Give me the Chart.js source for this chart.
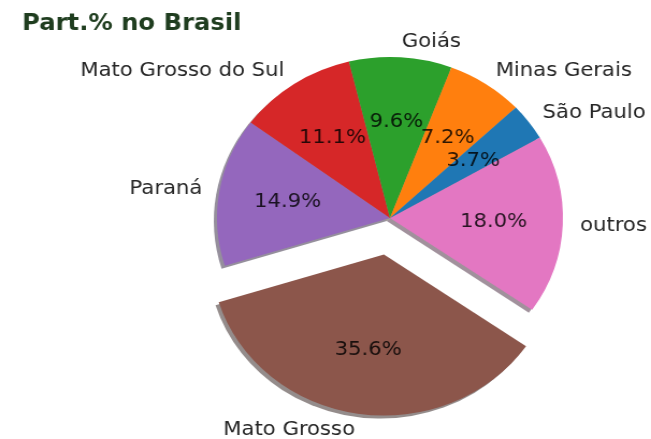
<!DOCTYPE html>
<html>
<head>
<meta charset="utf-8">
<script src="https://cdn.jsdelivr.net/npm/chart.js@4"></script>
<style>
  html, body { margin: 0; padding: 0; background: #fff; overflow: hidden; }
  /* the reference picture is a bit wider than tall, so stretch the canvas */
  #wrap { width: 606px; height: 439px; transform: scaleX(1.0743); transform-origin: 0 0; }
</style>
</head>
<body>
<div id="wrap"><canvas id="pieChart" width="606" height="439"></canvas></div>
<script>
// slices in clockwise drawing order (matplotlib drew them counter-clockwise)
const states = ["outros", "Mato Grosso", "Paraná", "Mato Grosso do Sul", "Goiás", "Minas Gerais", "São Paulo"];
const shares = [18.0, 35.6, 14.9, 11.1, 9.6, 7.2, 3.7];
const sliceColors = ["#e377c2", "#8c564b", "#9467bd", "#d62728", "#2ca02c", "#ff7f0e", "#1f77b4"];
const explode = [0, 37, 0, 0, 0, 0, 0]; // px the slice is pulled out

const total = shares.reduce((s, v) => s + v, 0);
const FONT = "'DejaVu Sans', sans-serif";

//darker, half transparent copy of a colour for the shadow
function shadeOf(hex) {
    const n = parseInt(hex.slice(1), 16);
    const r = Math.round(((n >> 16) & 255) * 0.3);
    const g = Math.round(((n >> 8) & 255) * 0.3);
    const b = Math.round((n & 255) * 0.3);
    return `rgba(${r},${g},${b},0.5)`;
}

function arcGeom(arc, i) {
    const p = arc.getProps(["x", "y", "startAngle", "endAngle", "outerRadius"]);
    const mid = (p.startAngle + p.endAngle) / 2;
    const off = explode[i] || 0;
    return {
        cx: p.x + Math.cos(mid) * off,
        cy: p.y + Math.sin(mid) * off,
        r: p.outerRadius, start: p.startAngle, end: p.endAngle, mid
    };
}

const pieDecor = {
    id: "pieDecor",
    //pull exploded slices out without chart.js growing their radius
    afterDatasetUpdate(chart, args) {
        args.meta.data.forEach((arc, i) => {
            if (!explode[i] || arc._exploded) return;
            const baseDraw = arc.draw;
            arc.draw = function (ctx, area) {
                const mid = (this.startAngle + this.endAngle) / 2;
                ctx.save();
                ctx.translate(Math.cos(mid) * explode[i], Math.sin(mid) * explode[i]);
                baseDraw.call(this, ctx, area);
                ctx.restore();
            };
            arc._exploded = true;
        });
    },
    beforeDatasetsDraw(chart) {
        const ctx = chart.ctx;
        chart.getDatasetMeta(0).data.forEach((arc, i) => {
            const g = arcGeom(arc, i);
            ctx.save();
            ctx.beginPath();
            ctx.moveTo(g.cx - 3, g.cy + 3);
            ctx.arc(g.cx - 3, g.cy + 3, g.r, g.start, g.end);
            ctx.closePath();
            ctx.fillStyle = shadeOf(sliceColors[i]);
            ctx.fill();
            ctx.restore();
        });
    },
    afterDatasetsDraw(chart) {
        const ctx = chart.ctx;
        const size = 19.7;
        ctx.save();
        chart.getDatasetMeta(0).data.forEach((arc, i) => {
            const g = arcGeom(arc, i);
            const c = Math.cos(g.mid), s = Math.sin(g.mid);
            ctx.font = `${size}px ${FONT}`;
            ctx.textBaseline = "alphabetic";

            //state name outside the pie
            ctx.fillStyle = "#262626";
            ctx.textAlign = c > 0 ? "left" : "right";
            ctx.fillText(states[i], g.cx + 1.1 * g.r * c, g.cy + 1.1 * g.r * s + 0.27 * size);

            //percentage inside
            ctx.fillStyle = "rgba(0,0,0,0.82)";
            ctx.textAlign = "center";
            const pct = (shares[i] / total * 100).toFixed(1) + "%";
            ctx.fillText(pct, g.cx + 0.6 * g.r * c, g.cy + 0.6 * g.r * s + 0.27 * size);
        });

        //title
        ctx.font = `bold 22.6px ${FONT}`;
        ctx.fillStyle = "#1f3d1f";
        ctx.textAlign = "left";
        ctx.fillText("Part.% no Brasil", 20.5, 29.5);
        ctx.restore();
    }
};

new Chart(document.getElementById("pieChart"), {
    type: "pie",
    data: {
        labels: states,
        datasets: [{
            data: shares,
            backgroundColor: sliceColors,
            borderWidth: 0,
            clip: false
        }]
    },
    options: {
        responsive: false,
        animation: false,
        rotation: 60,
        radius: 161,
        layout: { padding: { left: 213, right: 93, top: 68, bottom: 71 } },
        plugins: {
            legend: { display: false },
            tooltip: { enabled: false }
        }
    },
    plugins: [pieDecor]
});
</script>
</body>
</html>
